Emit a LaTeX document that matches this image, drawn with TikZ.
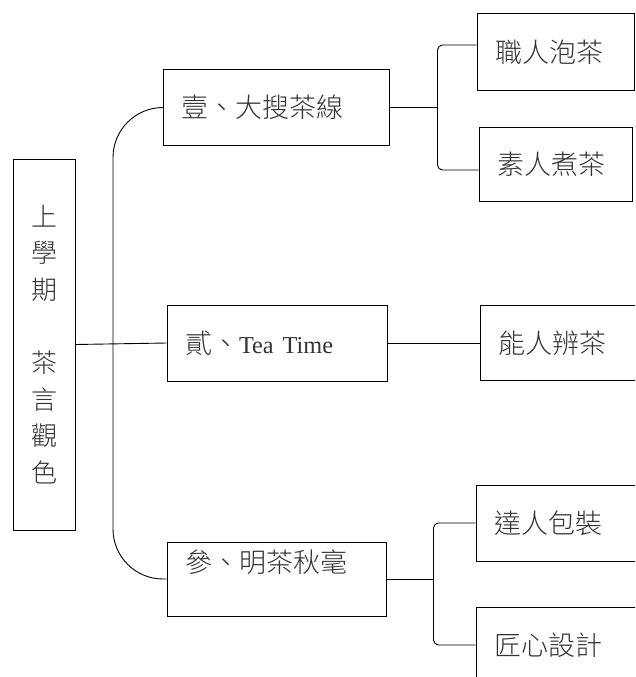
\documentclass[tikz,border=0pt]{standalone}
\usepackage{fontspec}
\setmainfont{Liberation Serif}[Scale=0.9]
\newfontfamily\cjk{Noto Sans CJK TC}[UprightFont=* Light]
\usetikzlibrary{positioning,calc}

\tikzset{
	box/.style={draw, line width=1pt, inner xsep=18pt, inner ysep=0pt, align=left,
		text=black!80, font=\cjk\fontsize{27}{33}\selectfont},
	link/.style={line width=0.9pt},
}

\begin{document}
\begin{tikzpicture}[x=1pt,y=-1pt]
		\useasboundingbox (0,0) rectangle (635,677);
		\clip (0,0) rectangle (635,677);
		%
		\node[draw, line width=1pt, minimum width=62pt, minimum height=371pt, inner sep=0pt, align=center,
			text=black!80, font=\cjk\fontsize{26}{36.6}\selectfont] (root) at (44,344.5) {上\\學\\期\\[36.6pt]茶\\言\\觀\\色};
		\node[box, text width=190pt, minimum height=75pt] (s1) at (276,107.5) {壹、大搜茶線};
		\node[box, text width=184pt, minimum height=76pt] (s2) at (277,343) {貳、{\rmfamily Tea Time}};
		\node[box, text width=183pt, minimum height=74pt, text height=26pt, text depth=40pt] (s3) at (276.5,579) {參、明茶秋毫};
		%
		\node[box, text width=121pt, minimum height=76pt] (l11) at (555.5,52) {職人泡茶};
		\node[box, text width=117pt, minimum height=74pt] (l12) at (555.5,164) {素人煮茶};
		\node[box, text width=124pt, minimum height=75pt, right=92pt of s2] (l21) {能人辨茶};
		\node[box, text width=126pt, minimum height=76pt] (l31) at (557,523) {達人包裝};
		\node[box, text width=126pt, minimum height=76pt] (l32) at (557,645) {匠心設計};
		%
		\coordinate (stem) at (113,344);
		\coordinate[right=48pt of s1.east] (fork1);
		\coordinate[right=47pt of s3.east] (fork3);
		%
		\draw[link] (root.east) -- (s2.west);
		\draw[link, rounded corners=50pt] (s1.west) -| (stem) |- (s3.west);
		\draw[link] (s1.east) -- (fork1);
		\draw[link, rounded corners=5pt] ([yshift=7pt]l11.west) -| (fork1) |- ([yshift=-6pt]l12.west);
		\draw[link] (s2.east) -- (l21.west);
		\draw[link] (s3.east) -- (fork3);
		\draw[link, rounded corners=5pt] (l31.west) -| (fork3) |- (l32.west);
	\end{tikzpicture}
\end{document}
